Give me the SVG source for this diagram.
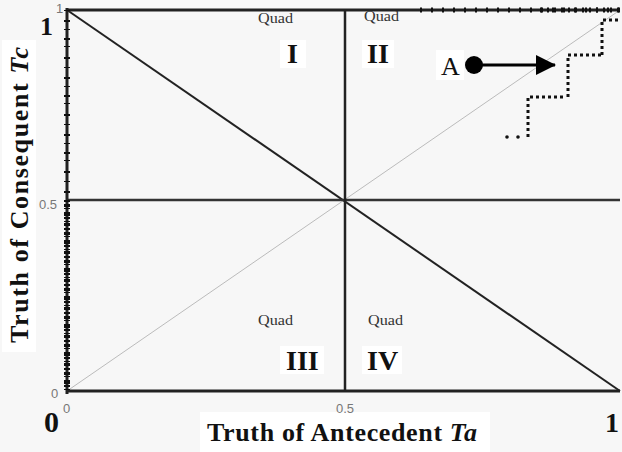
<svg xmlns="http://www.w3.org/2000/svg" width="622" height="452" viewBox="0 0 622 452">
<style>
.big{font-family:"Liberation Serif","Times New Roman",serif;font-weight:bold;fill:#111}
.quad{font-family:"Liberation Serif","Times New Roman",serif;font-size:14px;fill:#333}
.num{font-family:"Liberation Sans",Arial,sans-serif;font-size:13px;fill:#777}
.frame{stroke:#222;fill:none}
.dots{stroke:#111;fill:none;stroke-width:3;stroke-dasharray:3 3}
</style>
<defs>
<marker id="ah" viewBox="0 0 20 20" refX="19" refY="10" markerWidth="20" markerHeight="20" markerUnits="userSpaceOnUse" orient="auto">
<path d="M0,0 L20,10 L0,20 Z" fill="#000"/>
</marker>
</defs>
<rect width="622" height="452" fill="#f7f7f7"/>
<g id="label-boxes" fill="#ffffff">
<rect x="200" y="412" width="290" height="40"/>
<rect x="2" y="40" width="34" height="312"/>
<rect x="280" y="40" width="26" height="28"/>
<rect x="362" y="40" width="32" height="28"/>
<rect x="280" y="346" width="44" height="28"/>
<rect x="362" y="346" width="40" height="28"/>
<rect x="436" y="50" width="28" height="30"/>
</g>
<g id="connectors">
<line x1="67" y1="391" x2="620" y2="10" stroke="#bbb" stroke-width="1"/>
<line x1="67" y1="10" x2="620" y2="391" stroke="#222" stroke-width="2"/>
<line x1="67" y1="200" x2="620" y2="200" stroke="#333" stroke-width="2.5"/>
<line x1="345" y1="10" x2="345" y2="391" stroke="#222" stroke-width="2.5"/>
<line class="frame" x1="67" y1="391" x2="620" y2="391" stroke-width="3"/>
<line class="frame" x1="67" y1="10" x2="620" y2="10" stroke-width="3"/>
<line class="frame" x1="67" y1="8" x2="67" y2="394" stroke-width="3"/>
<line x1="67" y1="10" x2="67" y2="200" stroke="#111" stroke-width="6" stroke-dasharray="1 9 2 7 1 8 2 6 1 10 2 8"/>
<line x1="67" y1="200" x2="67" y2="391" stroke="#111" stroke-width="6" stroke-dasharray="2 2 3 1 1 3 4 1 2 2 1 1 3 2"/>
<line x1="420" y1="10" x2="620" y2="10" stroke="#111" stroke-width="5" stroke-dasharray="2 9"/>
<line x1="540" y1="10" x2="620" y2="10" stroke="#111" stroke-width="5" stroke-dasharray="2 5"/>
<path class="dots" d="M528,137 V97 H563"/>
<path class="dots" d="M568,97 V55 H602"/>
<path class="dots" d="M602,55 V20 H620"/>
<circle cx="507" cy="137" r="1.8" fill="#111"/>
<circle cx="518" cy="137" r="1.8" fill="#111"/>
<line x1="474" y1="65" x2="555" y2="65" stroke="#000" stroke-width="3" marker-end="url(#ah)"/>
</g>
<g id="point-A">
<circle cx="474" cy="65" r="9" fill="#000"/>
<text class="big" x="441" y="75" font-size="26" style="font-weight:normal">A</text>
</g>
<g id="quad-I">
<text class="quad" x="258" y="23" textLength="35" lengthAdjust="spacingAndGlyphs">Quad</text>
<text class="big" x="287" y="63" font-size="28">I</text>
</g>
<g id="quad-II">
<text class="quad" x="364" y="21" textLength="35" lengthAdjust="spacingAndGlyphs">Quad</text>
<text class="big" x="367" y="63" font-size="28">II</text>
</g>
<g id="quad-III">
<text class="quad" x="258" y="325" textLength="35" lengthAdjust="spacingAndGlyphs">Quad</text>
<text class="big" x="286" y="370" font-size="28">III</text>
</g>
<g id="quad-IV">
<text class="quad" x="368" y="325" textLength="35" lengthAdjust="spacingAndGlyphs">Quad</text>
<text class="big" x="367" y="370" font-size="28">IV</text>
</g>
<g id="axis-labels">
<text class="num" x="56" y="13" font-size="11">1</text>
<text class="num" x="51" y="398">0</text>
<text class="num" x="63" y="413">0</text>
<text class="num" x="39" y="209">0.5</text>
<text class="num" x="336" y="413">0.5</text>
<text class="big" x="40" y="35" font-size="26">1</text>
<text class="big" x="44" y="432" font-size="30">0</text>
<text class="big" x="605" y="432" font-size="28">1</text>
<text class="big" x="342" y="441" font-size="26" text-anchor="middle" textLength="270">Truth of Antecedent <tspan font-style="italic">Ta</tspan></text>
<text class="big" transform="translate(28,195) rotate(-90)" font-size="26" text-anchor="middle" textLength="296">Truth of Consequent <tspan font-style="italic">Tc</tspan></text>
</g>
</svg>
